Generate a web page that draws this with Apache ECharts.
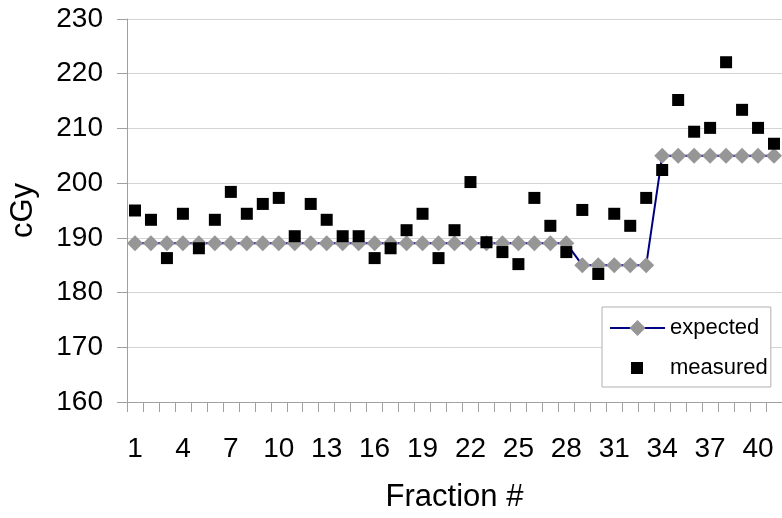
<!DOCTYPE html>
<html>
<head>
<meta charset="utf-8">
<script src="https://cdn.jsdelivr.net/npm/echarts@6/dist/echarts.min.js"></script>
<style>
  html, body { margin: 0; padding: 0; background: #fff; }
  #chart { width: 782px; height: 518px; }
</style>
</head>
<body>
<div id="chart"></div>
<script>
// Fraction numbers along the x axis
const fractions = ['1','2','3','4','5','6','7','8','9','10','11','12','13','14','15','16','17','18','19','20',
  '21','22','23','24','25','26','27','28','29','30','31','32','33','34','35','36','37','38','39','40','41'];

// Planned dose per fraction (cGy)
const expected = [189,189,189,189,189,189,189,189,189,189,189,189,189,189,189,189,189,189,189,189,
  189,189,189,189,189,189,189,189,185,185,185,185,185,205,205,205,205,205,205,205,205];

// Dose measured per fraction (cGy)
const measured = [195,193.3,186.3,194.4,188.1,193.3,198.4,194.4,196.2,197.3,190.3,196.2,193.3,190.3,190.3,
  186.3,188.1,191.4,194.4,186.3,191.4,200.2,189.2,187.4,185.2,197.3,192.2,187.4,195.1,183.4,194.4,192.2,
  197.3,202.4,215.2,209.4,210.1,222.1,213.4,210.1,207.2];

// Value axis range and step
const yMin = 160, yMax = 230, yStep = 10;

const font = 'Liberation Sans, Arial, sans-serif';
const chart = echarts.init(document.getElementById('chart'), null, { renderer: 'canvas' });

chart.setOption({
  animation: false,
  backgroundColor: '#ffffff',
  grid: { left: 127, top: 19, width: 660, height: 383, containLabel: false },
  xAxis: {
    type: 'category',
    data: fractions,
    boundaryGap: true,
    name: 'Fraction #',
    nameLocation: 'middle',
    nameGap: 80,
    nameTextStyle: { fontFamily: font, fontSize: 31, color: '#000' },
    axisLine: { lineStyle: { color: '#a0a0a0', width: 1 } },
    axisTick: { show: true, interval: 0, length: 10, lineStyle: { color: '#a0a0a0' } },
    axisLabel: { interval: 2, margin: 33, fontFamily: font, fontSize: 28, color: '#000' },
    splitLine: { show: false }
  },
  yAxis: {
    type: 'value',
    min: yMin, max: yMax, interval: yStep,
    name: 'cGy',
    nameLocation: 'middle',
    nameGap: 88,
    nameRotate: 90,
    nameTextStyle: { fontFamily: font, fontSize: 31, color: '#000' },
    axisLine: { show: true, lineStyle: { color: '#a0a0a0', width: 1 } },
    axisTick: { show: true, length: 10, lineStyle: { color: '#a0a0a0' } },
    axisLabel: { margin: 24, fontFamily: font, fontSize: 28, color: '#000' },
    splitLine: { show: true, lineStyle: { color: '#d4d4d4', width: 1 } }
  },
  legend: {
    orient: 'vertical',
    left: 602, top: 307,
    padding: [10, 3, 8, 7],
    itemGap: 18,
    itemWidth: 55, itemHeight: 20,
    borderColor: '#b0b0b0', borderWidth: 1,
    backgroundColor: '#ffffff',
    selectedMode: false,
    textStyle: { fontFamily: font, fontSize: 22, color: '#000' },
    data: [
      { name: 'expected' },
      { name: 'measured', icon: 'path://M0,0L0.001,0ZM55,20L54.999,20ZM21,4h12v12h-12Z' }
    ]
  },
  series: [
    {
      name: 'expected',
      type: 'line',
      data: expected,
      symbol: 'diamond',
      symbolSize: 16,
      showAllSymbol: true,
      lineStyle: { color: '#000080', width: 2 },
      itemStyle: { color: '#969696', opacity: 1 },
      z: 2
    },
    {
      name: 'measured',
      type: 'scatter',
      data: measured,
      symbol: 'rect',
      symbolSize: 12,
      itemStyle: { color: '#000000', opacity: 1 },
      z: 3
    }
  ]
});
</script>
</body>
</html>
